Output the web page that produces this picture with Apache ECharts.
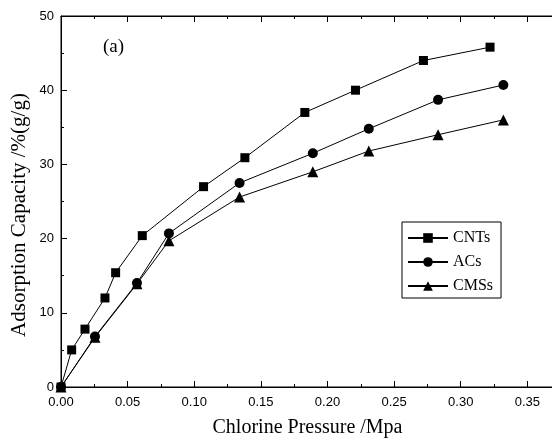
<!DOCTYPE html>
<html>
<head>
<meta charset="utf-8">
<script src="https://cdn.jsdelivr.net/npm/echarts@6/dist/echarts.min.js"></script>
<style>
  html, body { margin: 0; padding: 0; background: #fff; }
  #mChart { width: 552px; height: 441px; }
</style>
</head>
<body>
<div id="mChart"></div>
<script>
  // values
  var seriesNames = ['CNTs', 'ACs', 'CMSs'];
  var cntsPressure = [0, 0.008, 0.018, 0.033, 0.041, 0.061, 0.107, 0.138, 0.183, 0.221, 0.272, 0.322];
  var cntsCapacity = [0, 5.0, 7.8, 12.0, 15.4, 20.4, 27.0, 30.9, 37.0, 40.0, 44.0, 45.8];
  var acsPressure = [0, 0.0255, 0.057, 0.081, 0.134, 0.189, 0.231, 0.283, 0.332];
  var acsCapacity = [0, 6.8, 14.0, 20.7, 27.5, 31.5, 34.8, 38.7, 40.7];
  var cmssPressure = [0, 0.0255, 0.057, 0.081, 0.134, 0.189, 0.231, 0.283, 0.332];
  var cmssCapacity = [0, 6.7, 13.9, 19.7, 25.6, 29.0, 31.8, 34.0, 36.0];
  var xTicks = [0, 0.05, 0.10, 0.15, 0.20, 0.25, 0.30, 0.35];
  var yTicks = [0, 10, 20, 30, 40, 50];

  function pairs(xs, ys) {
    var out = [];
    for (var i = 0; i < xs.length; i++) out.push([xs[i], ys[i]]);
    return out;
  }

  var serif = 'Liberation Serif';
  var sans = 'Liberation Sans';

  function xLabel(v) {
    for (var i = 0; i < xTicks.length; i++) {
      if (Math.abs(xTicks[i] - v) < 1e-6) return v.toFixed(2);
    }
    return '';
  }

  function axisBase() {
    return {
      show: true,
      axisLine: { show: true, onZero: false, lineStyle: { color: '#000', width: 1 } },
      axisTick: { show: true, inside: true, length: 6, lineStyle: { color: '#000' } },
      minorTick: { show: true, splitNumber: 2, length: 3, lineStyle: { color: '#000' } },
      splitLine: { show: false }
    };
  }

  var myChart = echarts.init(document.getElementById('mChart'));
  var lineSeries = [
    { name: seriesNames[0], data: pairs(cntsPressure, cntsCapacity), symbol: 'rect', symbolSize: 9 },
    { name: seriesNames[1], data: pairs(acsPressure, acsCapacity), symbol: 'circle', symbolSize: 10 },
    { name: seriesNames[2], data: pairs(cmssPressure, cmssCapacity), symbol: 'triangle', symbolSize: 11 }
  ].map(function (s) {
    return {
      name: s.name,
      type: 'line',
      xAxisIndex: 0,
      yAxisIndex: 0,
      data: s.data,
      symbol: s.symbol,
      symbolSize: s.symbolSize,
      showAllSymbol: true,
      animation: false,
      lineStyle: { color: '#000', width: 1 },
      itemStyle: { color: '#000' }
    };
  });

  myChart.setOption({
    animation: false,
    grid: {
      left: 61, top: 16, width: 493, height: 371, containLabel: false, outerBoundsMode: 'none',
      show: true, borderColor: '#000', borderWidth: 1, backgroundColor: 'transparent'
    },
    legend: {
      orient: 'vertical',
      left: 402,
      top: 222,
      padding: [8, 8, 4, 5],
      itemGap: 8,
      itemWidth: 40,
      itemHeight: 12,
      borderColor: '#000',
      borderWidth: 1,
      borderRadius: 0,
      textStyle: { fontFamily: serif, fontSize: 16, color: '#000' },
      data: seriesNames
    },
    graphic: [
      { type: 'text', left: 103, top: 38, style: { text: '(a)', fontFamily: serif, fontSize: 19, fill: '#000' } },
      {
        type: 'text', x: 19, y: 215, rotation: Math.PI / 2,
        style: {
          text: 'Adsorption Capacity /%(g/g)', fontFamily: serif, fontSize: 21, fill: '#000',
          align: 'center', verticalAlign: 'middle'
        }
      }
    ],
    xAxis: [
      Object.assign(axisBase(), {
        type: 'value',
        gridIndex: 0,
        position: 'bottom',
        min: 0,
        max: 0.37,
        interval: 0.05,
        name: 'Chlorine Pressure /Mpa',
        nameLocation: 'middle',
        nameGap: 31,
        nameTextStyle: { fontFamily: serif, fontSize: 20, color: '#000' },
        axisLabel: { fontFamily: sans, fontSize: 13, color: '#000', margin: 9, formatter: xLabel }
      }),
      Object.assign(axisBase(), {
        type: 'value',
        gridIndex: 0,
        position: 'top',
        min: 0,
        max: 0.37,
        interval: 0.05,
        axisLabel: { show: false }
      })
    ],
    yAxis: [
      Object.assign(axisBase(), {
        type: 'value',
        gridIndex: 0,
        min: 0,
        max: 50,
        interval: 10,
        axisLabel: { fontFamily: sans, fontSize: 13, color: '#000', margin: 7 }
      })
    ],
    series: lineSeries
  });
</script>
</body>
</html>
